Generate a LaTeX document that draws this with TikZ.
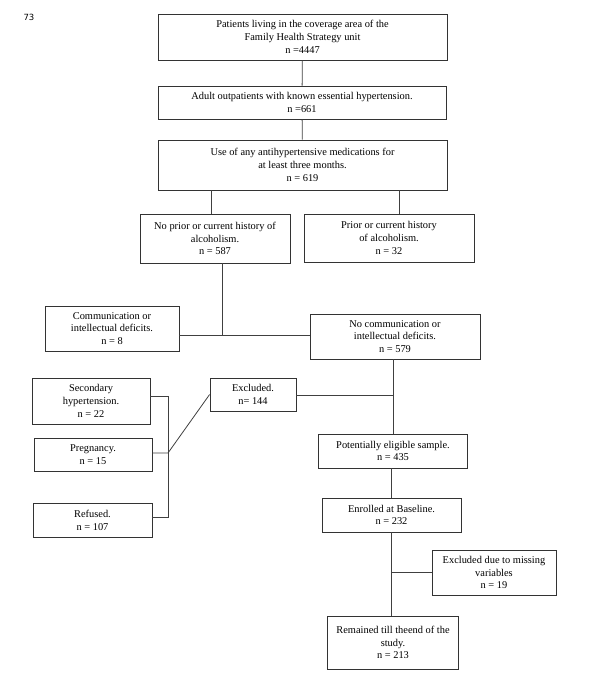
\documentclass[tikz,border=0pt]{standalone}
\usepackage{fontspec}
\setmainfont{Liberation Serif}
\newfontfamily\pgnumfont{DejaVu Sans}
\usepackage{tikz}
\usetikzlibrary{positioning, calc}

\newcommand{\boxfont}{\fontsize{10.4}{12.8}\selectfont}

\begin{document}
\begin{tikzpicture}[
  x=1pt, y=-1pt,
  bx/.style={draw=black!80, line width=0.8pt, fill=white, align=center, inner sep=0pt, font=\boxfont},
  ln/.style={draw=black!75, line width=0.8pt},
]
  \useasboundingbox (0,0) rectangle (590,678);
  \node[font=\pgnumfont\fontsize{8.5}{9}\selectfont] (pg) at (29,17) {73};

  % main column
  \node[bx, minimum width=289, minimum height=46] (pop) at (302.5,37)
    {Patients living in the coverage area of the\\Family Health Strategy unit\\n =4447};
  \node[bx, minimum width=288, minimum height=33] (adult) at (302,102.5)
    {Adult outpatients with known essential hypertension.\\n =661};
  \node[bx, minimum width=289, minimum height=50] (meds) at (302.5,165)
    {Use of any antihypertensive medications for\\at least three months.\\n = 619};
  \node[bx, minimum width=150, minimum height=49] (noalc) at (215,238.5)
    {No prior or current history of\\alcoholism.\\n = 587};
  \node[bx, minimum width=170, minimum height=48] (alc) at (389,238)
    {Prior or current history\\of alcoholism.\\n = 32};
  \node[bx, minimum width=134, minimum height=45] (comm) at (112,328.5)
    {Communication or\\intellectual deficits.\\n = 8};
  \node[bx, minimum width=170, minimum height=45] (nocomm) at (395,336.5)
    {No communication or\\intellectual deficits.\\n = 579};

  % exclusions
  \node[bx, minimum width=118, minimum height=46] (sec) at (91,401)
    {Secondary\\hypertension.\\n = 22};
  \node[bx, minimum width=118, minimum height=33] (preg) at (93,454.5)
    {Pregnancy.\\n = 15};
  \node[bx, minimum width=119, minimum height=34] (ref) at (92.5,520)
    {Refused.\\n = 107};
  \node[bx, minimum width=86, minimum height=33] (excl) at (253,394.5)
    {Excluded.\\n= 144};

  \node[bx, minimum width=149, minimum height=34] (elig) at (393,451)
    {Potentially eligible sample.\\n = 435};
  \node[bx, minimum width=139, minimum height=34] (base) at (391.5,515)
    {Enrolled at Baseline.\\n = 232};
  \node[bx, minimum width=124, minimum height=45] (miss) at (494,572.5)
    {Excluded due to missing\\variables\\n = 19};
  \node[bx, minimum width=131, minimum height=53] (final) at (393,642.5)
    {Remained till theend of the\\study.\\n = 213};

  \coordinate (j1) at (222,335);
  \coordinate (bt) at (168,396);
  \coordinate (bm) at (168,453);
  \coordinate (bb) at (168,517);

  \draw[ln] (pop) -- (adult);
  \draw[ln] (adult) -- (meds);
  \draw[ln] ([xshift=-4pt]noalc.north) -- ([xshift=-4pt]noalc.north |- meds.south);
  \draw[ln] ([xshift=10pt]alc.north) -- ([xshift=10pt]alc.north |- meds.south);
  \draw[ln] (noalc.south -| j1) -- (j1);
  \draw[ln] (comm.east |- j1) -- (nocomm.west |- j1);
  \draw[ln] (nocomm.south -| elig.north) -- (elig.north);
  \draw[ln] ([yshift=-1pt]excl.east) -- ([yshift=-1pt]excl.east -| elig.north);
  \draw[ln] (sec.east |- bt) -- (bt) -- (bb) -- (ref.east |- bb);
  \draw[ln] (preg.east |- bm) -- (bm) -- (excl.west);
  \draw[ln] (elig.south -| base.north) -- (base.north);
  \draw[ln] (base.south) -- (base.south |- final.north);
  \draw[ln] (miss.west) -- (miss.west -| base.south);
\end{tikzpicture}
\end{document}
